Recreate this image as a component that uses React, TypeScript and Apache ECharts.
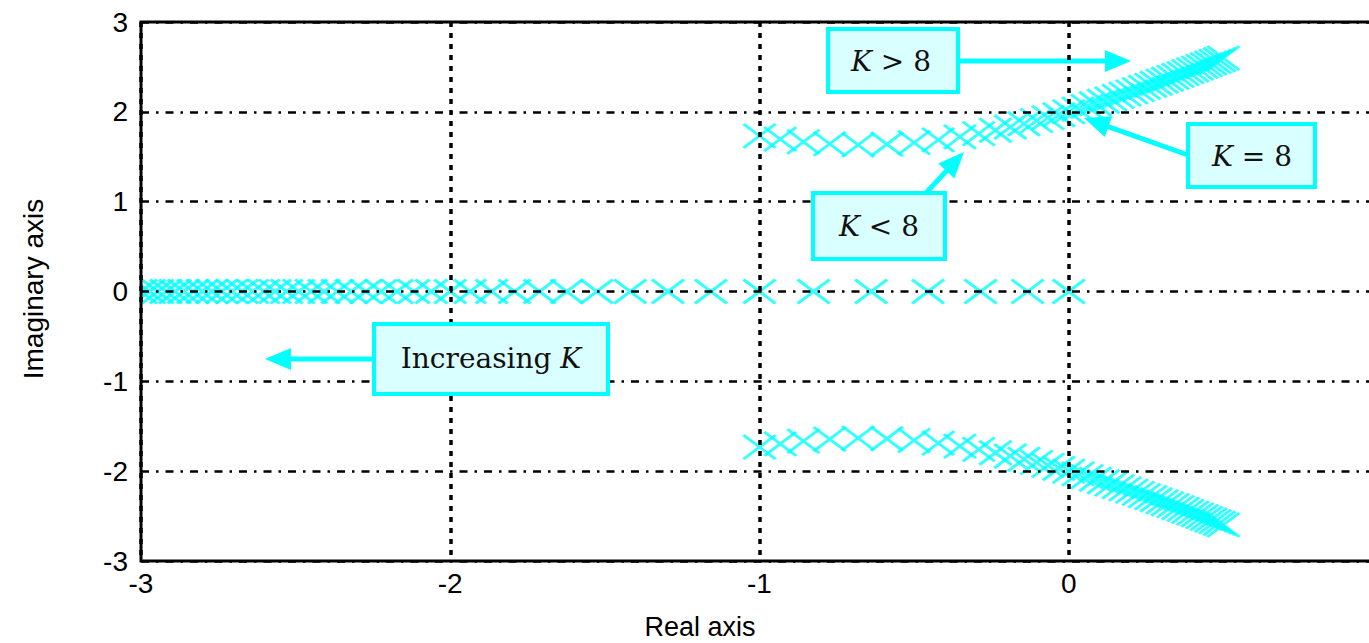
import React, { useEffect, useRef } from 'react';
import * as echarts from 'echarts';

// Root locus (gain steps of 0.5, K = 0 ... 21)
const realBranch = [
  0, -0.133, -0.285, -0.455, -0.639, -0.825, -1.0, -1.157, -1.296, -1.418, -1.526,
  -1.623, -1.711, -1.792, -1.866, -1.936, -2.0, -2.061, -2.118, -2.172, -2.224,
  -2.273, -2.32, -2.365, -2.408, -2.45, -2.49, -2.529, -2.567, -2.603, -2.639,
  -2.673, -2.706, -2.739, -2.771, -2.802, -2.832, -2.862, -2.89, -2.919, -2.946,
  -2.973, -3.0,
];
const complexRe = [
  -1.0, -0.933, -0.858, -0.773, -0.681, -0.588, -0.5, -0.422, -0.352, -0.291, -0.237,
  -0.189, -0.145, -0.104, -0.067, -0.032, 0.0, 0.03, 0.059, 0.086, 0.112,
  0.136, 0.16, 0.182, 0.204, 0.225, 0.245, 0.265, 0.283, 0.302, 0.319,
  0.337, 0.353, 0.37, 0.385, 0.401, 0.416, 0.431, 0.445, 0.459, 0.473,
  0.487, 0.5,
];
const complexImUpper = [
  1.732, 1.697, 1.666, 1.643, 1.633, 1.639, 1.658, 1.687, 1.721, 1.758, 1.795,
  1.831, 1.867, 1.902, 1.936, 1.968, 2.0, 2.031, 2.061, 2.09, 2.118,
  2.145, 2.172, 2.198, 2.223, 2.248, 2.272, 2.295, 2.318, 2.341, 2.363,
  2.384, 2.406, 2.426, 2.447, 2.467, 2.487, 2.506, 2.525, 2.544, 2.562,
  2.58, 2.598,
];
const complexImLower = [
  -1.732, -1.697, -1.666, -1.643, -1.633, -1.639, -1.658, -1.687, -1.721, -1.758, -1.795,
  -1.831, -1.867, -1.902, -1.936, -1.968, -2.0, -2.031, -2.061, -2.09, -2.118,
  -2.145, -2.172, -2.198, -2.223, -2.248, -2.272, -2.295, -2.318, -2.341, -2.363,
  -2.384, -2.406, -2.426, -2.447, -2.467, -2.487, -2.506, -2.525, -2.544, -2.562,
  -2.58, -2.598,
];

const xRange = { min: -3, max: 1, step: 1 };
const yRange = { min: -3, max: 3, step: 1 };
const xTitle = 'Real axis';
const yTitle = 'Imaginary axis';

// annotation layout (pixels)
const notes = [
  { rich: '{i|K} > 8', x: 828, y: 29, w: 130, h: 63, tx: 891, ty: 61 },
  { rich: '{i|K} = 8', x: 1188, y: 124, w: 127, h: 63, tx: 1252, ty: 156 },
  { rich: '{i|K} < 8', x: 813, y: 193, w: 132, h: 66, tx: 879, ty: 226 },
  { rich: 'Increasing {i|K}', x: 374, y: 324, w: 234, h: 70, tx: 491, ty: 358 },
];
const arrows = [
  { x1: 960, y1: 61, x2: 1131, y2: 61 },
  { x1: 1188, y1: 155, x2: 1084, y2: 118 },
  { x1: 926, y1: 193, x2: 964, y2: 152 },
  { x1: 374, y1: 359, x2: 265, y2: 359 },
];

const CYAN = '#00ffff';
const BOX_FILL = '#daffff';
const SANS = '"Liberation Sans", Arial, Helvetica, sans-serif';
const SERIF = '"DejaVu Serif", "Liberation Serif", serif';
const XMARK = 'path://M0,0L32,24M32,0L0,24';

function arrowEls(a: { x1: number; y1: number; x2: number; y2: number }) {
  const dx = a.x2 - a.x1;
  const dy = a.y2 - a.y1;
  const len = Math.sqrt(dx * dx + dy * dy);
  const ux = dx / len;
  const uy = dy / len;
  const hl = 26;
  const hw = 11;
  const bx = a.x2 - ux * hl;
  const by = a.y2 - uy * hl;
  const px = -uy;
  const py = ux;
  return [
    {
      type: 'line',
      z: 4,
      silent: true,
      shape: { x1: a.x1, y1: a.y1, x2: bx + ux * 4, y2: by + uy * 4 },
      style: { stroke: CYAN, lineWidth: 5 },
    },
    {
      type: 'polygon',
      z: 4,
      silent: true,
      shape: {
        points: [
          [a.x2, a.y2],
          [bx + px * hw, by + py * hw],
          [bx - px * hw, by - py * hw],
        ],
      },
      style: { fill: CYAN },
    },
  ];
}

const markerSeries = (name: string, data: number[][]) => ({
  name,
  type: 'scatter',
  silent: true,
  symbol: XMARK,
  symbolSize: [32, 24],
  itemStyle: { color: 'rgba(0,0,0,0)', borderColor: CYAN, borderWidth: 3 },
  data,
  z: 2,
});

export default function App() {
  const ref = useRef<HTMLDivElement>(null);
  useEffect(() => {
    if (!ref.current) return;
    const chart = echarts.init(ref.current, undefined, { renderer: 'svg' });

    const graphics: any[] = [
      // hides marker overflow left of the plot frame
      { type: 'rect', z: 5, silent: true, shape: { x: 90, y: 250, width: 50, height: 80 }, style: { fill: '#fff' } },
      {
        type: 'text',
        z: 20,
        x: 33,
        y: 289,
        rotation: Math.PI / 2,
        style: { text: yTitle, fill: '#000', fontSize: 28, fontFamily: SANS, align: 'center', verticalAlign: 'middle' },
      },
      {
        type: 'text',
        z: 20,
        x: 700,
        y: 627,
        style: { text: xTitle, fill: '#000', fontSize: 27, fontFamily: SANS, align: 'center', verticalAlign: 'middle' },
      },
    ];
    arrows.forEach((a) => graphics.push(...arrowEls(a)));
    notes.forEach((n) => {
      graphics.push({
        type: 'rect',
        z: 100,
        silent: true,
        shape: { x: n.x, y: n.y, width: n.w, height: n.h },
        style: { fill: BOX_FILL, stroke: CYAN, lineWidth: 4 },
      });
      graphics.push({
        type: 'text',
        z: 101,
        silent: true,
        x: n.tx,
        y: n.ty,
        style: {
          text: n.rich,
          fill: '#111',
          fontSize: 28,
          fontFamily: SERIF,
          align: 'center',
          verticalAlign: 'middle',
          rich: {
            i: { fontStyle: 'italic', fontSize: 28, fontFamily: SERIF, fill: '#111' },
          },
        },
      });
    });

    chart.setOption({
      animation: false,
      backgroundColor: '#ffffff',
      grid: {
        left: 141,
        top: 22,
        width: 1237,
        height: 539,
        show: true,
        borderColor: '#000',
        borderWidth: 3,
        backgroundColor: 'rgba(0,0,0,0)',
        z: 11,
      },
      xAxis: {
        type: 'value',
        min: xRange.min,
        max: xRange.max,
        interval: xRange.step,
        z: 10,
        axisLine: { show: false },
        axisTick: { show: false },
        axisLabel: {
          color: '#000',
          fontSize: 28,
          fontFamily: SANS,
          margin: 8,
          showMaxLabel: false,
        },
        splitLine: { show: true, lineStyle: { color: '#000', width: 3.5, type: [5, 6] } },
      },
      yAxis: {
        type: 'value',
        min: yRange.min,
        max: yRange.max,
        interval: yRange.step,
        z: 10,
        axisLine: { show: false },
        axisTick: { show: false },
        axisLabel: {
          color: '#000',
          fontSize: 28,
          fontFamily: SANS,
          margin: 13,
        },
        splitLine: { show: true, lineStyle: { color: '#000', width: 2.5, type: [8, 7, 2.5, 7] } },
      },
      series: [
        markerSeries('real', realBranch.map((x) => [x, 0])),
        markerSeries('upper', complexRe.map((x, i) => [x, complexImUpper[i]])),
        markerSeries('lower', complexRe.map((x, i) => [x, complexImLower[i]])),
      ],
      graphic: graphics,
    });
    return () => chart.dispose();
  }, []);
  return (
    <div
      ref={ref}
      style={{ position: 'fixed', left: 0, top: 0, width: 1400, height: 643, background: '#fff' }}
    />
  );
}
